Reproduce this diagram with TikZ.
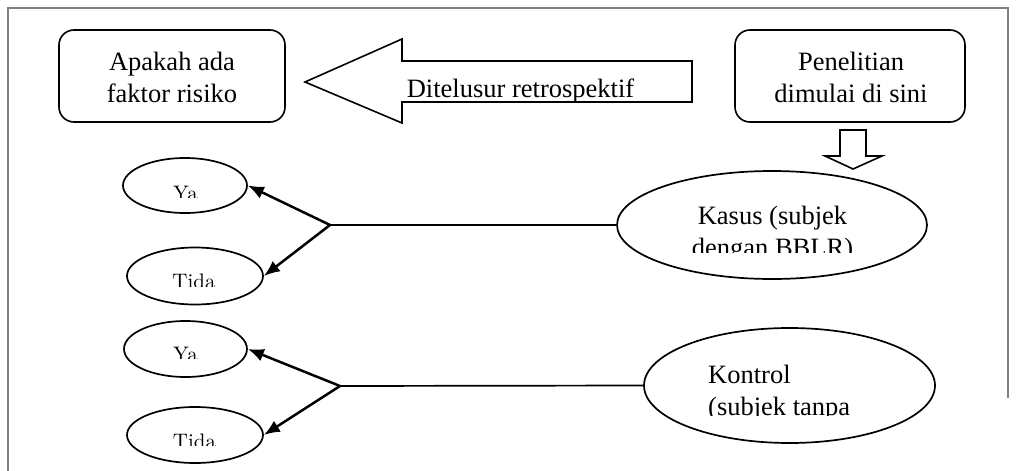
\documentclass[tikz,border=0pt]{standalone}
\usepackage{fontspec}
\setmainfont{Liberation Serif}
\newfontfamily\lmfont{lmroman10-regular}[Extension=.otf]
\usetikzlibrary{arrows.meta,shapes.geometric}
\tikzset{
  frameline/.style={draw=black!50, line width=1.5pt},
  rbox/.style={draw, line width=1.6pt, rounded corners=15pt, inner sep=0pt},
  oval/.style={draw, ellipse, line width=1.7pt, inner sep=0pt},
  bigtext/.style={font=\fontsize{26.5}{32}\selectfont, inner sep=0pt},
  smalltext/.style={font=\lmfont\fontsize{21}{26}\selectfont, inner sep=0pt, anchor=base},
  blockarrow/.style={draw, line width=1.6pt, fill=white},
  link/.style={line width=1.7pt},
  branch/.style={line width=2.5pt, -{Latex[length=16pt,width=13pt]}},
}
\begin{document}
\begin{tikzpicture}[x=1pt,y=-1pt]
\useasboundingbox (0,0) rectangle (1017,471);
% outer frame
\draw[frameline] (1008,398) -- (1008,8) -- (8,8) -- (8,471);

% top boxes
\node[rbox, minimum width=226pt, minimum height=92pt] (faktor) at (172,76) {};
\node[bigtext, align=center] (tfaktor) at (172,77) {Apakah ada\\faktor risiko};
\node[rbox, minimum width=230pt, minimum height=92pt] (mulai) at (850,76) {};
\node[bigtext, align=center] (tmulai) at (851,77) {Penelitian\\dimulai di sini};

% big left arrow
\draw[blockarrow] (305,82) -- (402,39) -- (402,61) -- (692,61) -- (692,102) -- (402,102) -- (402,123) -- cycle;
\begin{scope}
  \clip (0,0) rectangle (1017,101);
  \node[bigtext, anchor=base] (tarrow) at (520.5,97.5) {Ditelusur retrospektif};
\end{scope}

% down arrow
\draw[blockarrow] (840,130) -- (866,130) -- (866,156) -- (882,156) -- (853,169) -- (825,156) -- (840,156) -- cycle;

% ellipses
\node[oval, minimum width=310pt, minimum height=108pt] (kasus) at (772,225) {};
\node[oval, minimum width=291pt, minimum height=115pt] (kontrol) at (789.5,385.5) {};
\node[oval, minimum width=124pt, minimum height=55pt] (ya1) at (185,185.5) {};
\node[oval, minimum width=136pt, minimum height=57pt] (tida1) at (195,276) {};
\node[oval, minimum width=123pt, minimum height=56pt] (ya2) at (185.5,349) {};
\node[oval, minimum width=136pt, minimum height=56pt] (tida2) at (195,435) {};

% ellipse texts (clipped as in the picture)
\begin{scope}
  \clip (0,0) rectangle (1017,252);
  \node[bigtext, align=center, anchor=north] (tkasus) at (772.5,206) {Kasus (subjek\\dengan BBLR)};
\end{scope}
\begin{scope}
  \clip (0,0) rectangle (1017,415);
  \node[bigtext, align=left, anchor=north west] (tkontrol) at (708,364.5) {Kontrol\\(subjek tanpa};
\end{scope}
\begin{scope}
  \clip (0,0) rectangle (1017,197);
  \node[smalltext] (tya1) at (185.5,200) {Ya};
\end{scope}
\begin{scope}
  \clip (0,0) rectangle (1017,286);
  \node[smalltext] (ttida1) at (194,288.5) {Tida};
\end{scope}
\begin{scope}
  \clip (0,0) rectangle (1017,358.5);
  \node[smalltext] (tya2) at (185.5,361.5) {Ya};
\end{scope}
\begin{scope}
  \clip (0,0) rectangle (1017,445);
  \node[smalltext] (ttida2) at (194.5,448) {Tida};
\end{scope}

% connectors
\coordinate (b1) at (330,225);
\coordinate (b2) at (340,386);
\draw[link] (kasus.west) -- (b1);
\draw[branch] (b1) -- (ya1.east);
\draw[branch] (b1) -- (tida1.east);
\draw[link] (kontrol.west) -- (b2);
\draw[branch] (b2) -- (ya2.east);
\draw[branch] (b2) -- (tida2.east);
\end{tikzpicture}
\end{document}
